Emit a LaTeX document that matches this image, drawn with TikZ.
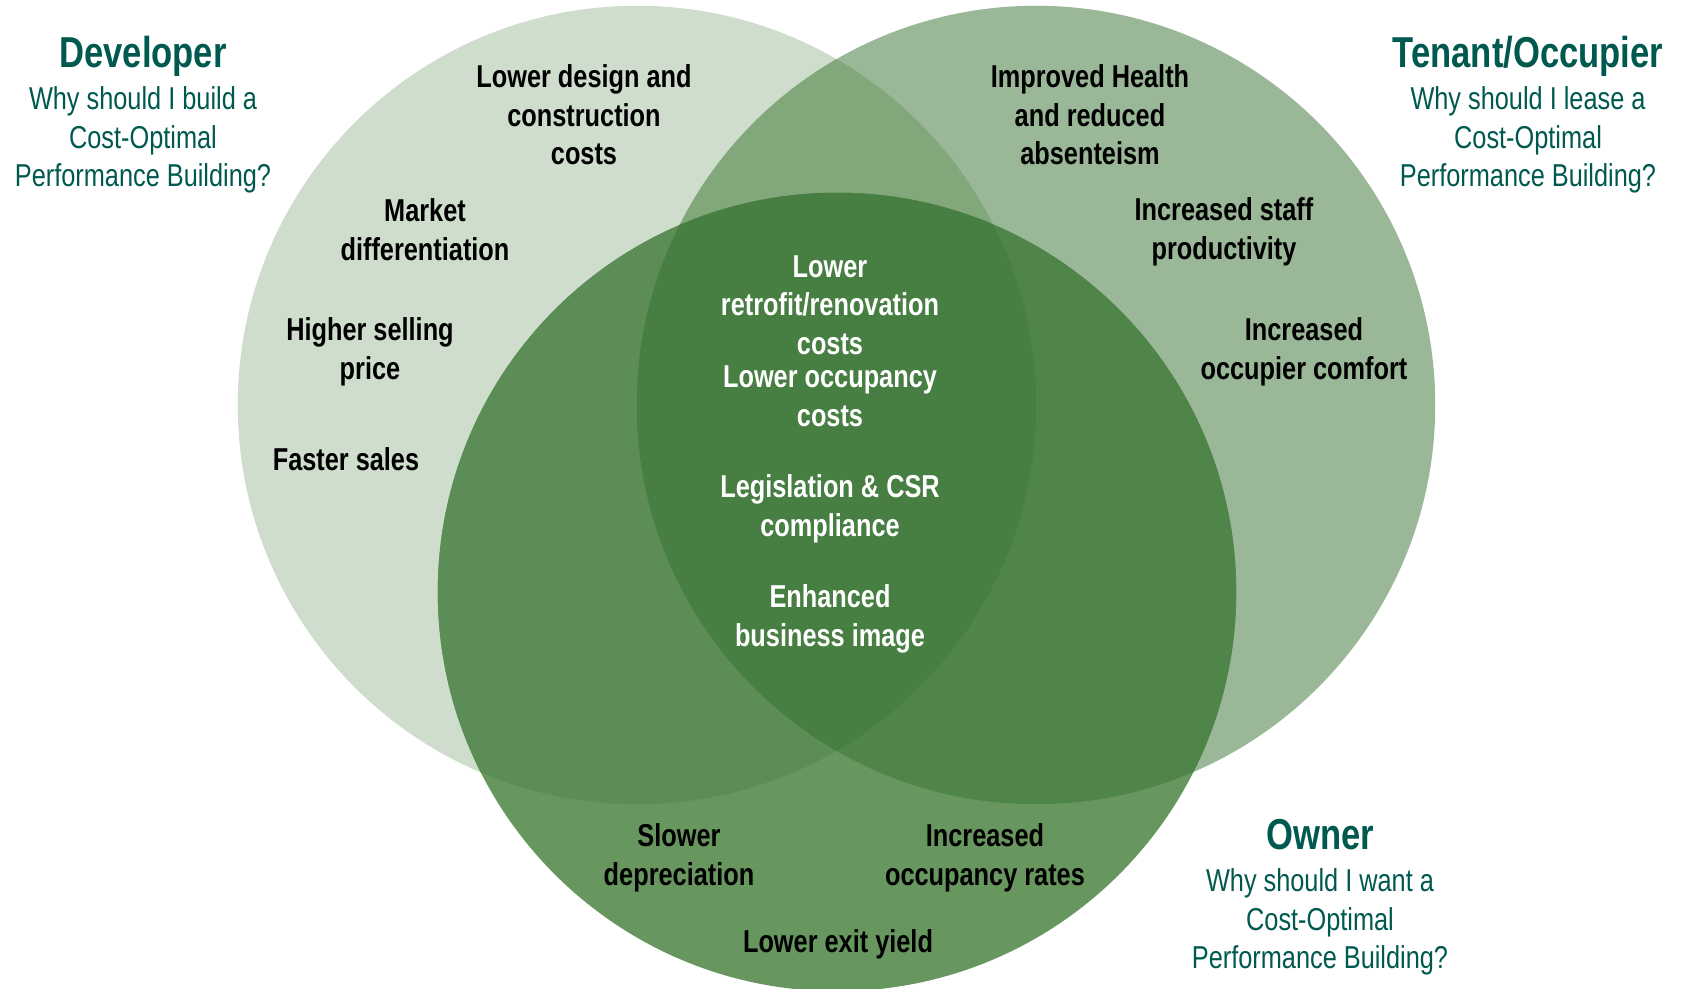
\documentclass[tikz,border=0pt]{standalone}
\usepackage{fontspec}
\setmainfont{Liberation Sans}[FakeStretch=0.8]
\usepackage{tikz}
\usetikzlibrary{positioning}
\definecolor{devfill}{HTML}{CEDDCC}
\definecolor{tenfill}{HTML}{9AB797}
\definecolor{ownfill}{HTML}{67965F}
\definecolor{devten}{HTML}{81A77B}
\definecolor{devown}{HTML}{5D8D56}
\definecolor{tenown}{HTML}{4F8549}
\definecolor{allthree}{HTML}{477E41}
\definecolor{roleteal}{HTML}{00594F}
\tikzset{
  ring/.style={radius=3.99cm},
  role/.style={inner sep=0pt,text=roleteal,
               text height=0.75em,text depth=0.22em,
               font=\fontsize{12.3}{14.5}\selectfont\bfseries},
  question/.style={inner sep=0pt,align=center,text=roleteal,
                   font=\fontsize{9}{11}\selectfont},
  benefit/.style={inner sep=0pt,align=center,text=black,
                  font=\fontsize{9}{11}\selectfont\bfseries},
  shared/.style={benefit,text=white},
}

\begin{document}
\begin{tikzpicture}[x=0.01cm,y=-0.01cm]
    \useasboundingbox (0,0) rectangle (1682,989);

    % Circles
    \coordinate (dev) at (637,405);
    \coordinate (ten) at (1036,405);
    \coordinate (own) at (837,592);
    \fill[devfill] (dev) circle[ring];
    \fill[tenfill] (ten) circle[ring];
    \fill[ownfill] (own) circle[ring];
    \begin{scope}
        \clip (dev) circle[ring];
        \fill[devten] (ten) circle[ring];
        \fill[devown] (own) circle[ring];
    \end{scope}
    \begin{scope}
        \clip (ten) circle[ring];
        \fill[tenown] (own) circle[ring];
    \end{scope}
    \begin{scope}
        \clip (dev) circle[ring];
        \clip (ten) circle[ring];
        \fill[allthree] (own) circle[ring];
    \end{scope}

    % Roles
    \node[role] (devtitle) at (143,58) {Developer};
    \node[question] (devq) [below=0.1cm of devtitle]
        {Why should I build a\\Cost-Optimal\\Performance Building?};
    \node[role] (tentitle) at (1528,58) {Tenant/Occupier};
    \node[question] (tenq) [below=0.1cm of tentitle]
        {Why should I lease a\\Cost-Optimal\\Performance Building?};
    \node[role] (owntitle) at (1320,840) {Owner};
    \node[question] (ownq) [below=0.1cm of owntitle]
        {Why should I want a\\Cost-Optimal\\Performance Building?};

    % Developer benefits
    \node[benefit] (design) at (584,115) {Lower design and\\construction\\costs};
    \node[benefit] (market) at (425,230) {Market\\differentiation};
    \node[benefit] (price)  at (370,352) {Higher selling\\price};
    \node[benefit] (sales)  at (346,459) {Faster sales};

    % Tenant benefits
    \node[benefit] (health)  at (1090,115) {Improved Health\\and reduced\\absenteism};
    \node[benefit] (staff)   at (1224,232) {Increased staff\\productivity};
    \node[benefit] (comfort) at (1304,352) {Increased\\occupier comfort};

    % Shared benefits
    \node[shared] (retrofit)  at (830,305) {Lower\\retrofit/renovation\\costs};
    \node[shared] (occupancy) at (830,396) {Lower occupancy\\costs};
    \node[shared] (csr)       at (830,509) {Legislation \& CSR\\compliance};
    \node[shared] (image)     at (830,619) {Enhanced\\business image};

    % Owner benefits
    \node[benefit] (deprec) at (679,858) {Slower\\depreciation};
    \node[benefit] (rates)  at (985,858) {Increased\\occupancy rates};
    \node[benefit] (yield)  at (838,944) {Lower exit yield};
\end{tikzpicture}
\end{document}
